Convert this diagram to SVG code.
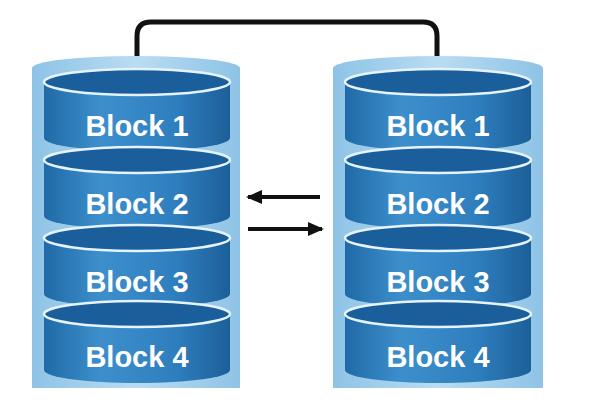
<svg xmlns="http://www.w3.org/2000/svg" width="600" height="400" viewBox="0 0 600 400">
<defs>
<linearGradient id="body" x1="0" x2="1" y1="0" y2="0">
<stop offset="0" stop-color="#1f6aa6"/><stop offset="0.3" stop-color="#3d8fcc"/><stop offset="0.7" stop-color="#2f7fbf"/><stop offset="1" stop-color="#1c5f98"/>
</linearGradient>
<linearGradient id="outer" x1="0" x2="1" y1="0" y2="0">
<stop offset="0" stop-color="#8ec3e6"/><stop offset="0.5" stop-color="#b9dcf2"/><stop offset="1" stop-color="#8ec3e6"/>
</linearGradient>
<marker id="ah" markerWidth="16" markerHeight="14" refX="14" refY="7" orient="auto" markerUnits="userSpaceOnUse"><path d="M0,0 L16,7 L0,14 Z" fill="#111"/></marker>
<g id="disc">
<path d="M-93,0 L-93,56 A93,13 0 0 0 93,56 L93,0 Z" fill="url(#body)"/>
<ellipse cx="0" cy="0" rx="93" ry="13" fill="#1a5f9c" stroke="#e6f3fb" stroke-width="2.5"/>
</g>
</defs>
<style>
text{font-family:"Liberation Sans",Arial,sans-serif;font-weight:bold;font-size:29px;fill:#fff;text-anchor:middle}
</style>
<rect width="600" height="400" fill="#fff"/>
<g id="connectors" fill="none" stroke="#111" stroke-width="5">
<path d="M137,82 L137,36 Q137,22 151,22 L423,22 Q437,22 437,36 L437,82"/>
<line x1="320" y1="197" x2="248" y2="197" marker-end="url(#ah)" stroke-width="4"/>
<line x1="248" y1="229" x2="322" y2="229" marker-end="url(#ah)" stroke-width="4"/>
</g>
<g id="left">
<path d="M32,68 L32,388 L240,388 L240,68 A104,12 0 0 0 32,68 Z" fill="url(#outer)"/>
<use href="#disc" x="137" y="82"/>
<use href="#disc" x="137" y="160"/>
<use href="#disc" x="137" y="238"/>
<use href="#disc" x="137" y="314"/>
<text x="137" y="136">Block 1</text>
<text x="137" y="214">Block 2</text>
<text x="137" y="292">Block 3</text>
<text x="137" y="367">Block 4</text>
</g>
<g id="right">
<path d="M333,68 L333,388 L543,388 L543,68 A105,12 0 0 0 333,68 Z" fill="url(#outer)"/>
<use href="#disc" x="438" y="82"/>
<use href="#disc" x="438" y="160"/>
<use href="#disc" x="438" y="238"/>
<use href="#disc" x="438" y="314"/>
<text x="438" y="136">Block 1</text>
<text x="438" y="214">Block 2</text>
<text x="438" y="292">Block 3</text>
<text x="438" y="367">Block 4</text>
</g>
</svg>
